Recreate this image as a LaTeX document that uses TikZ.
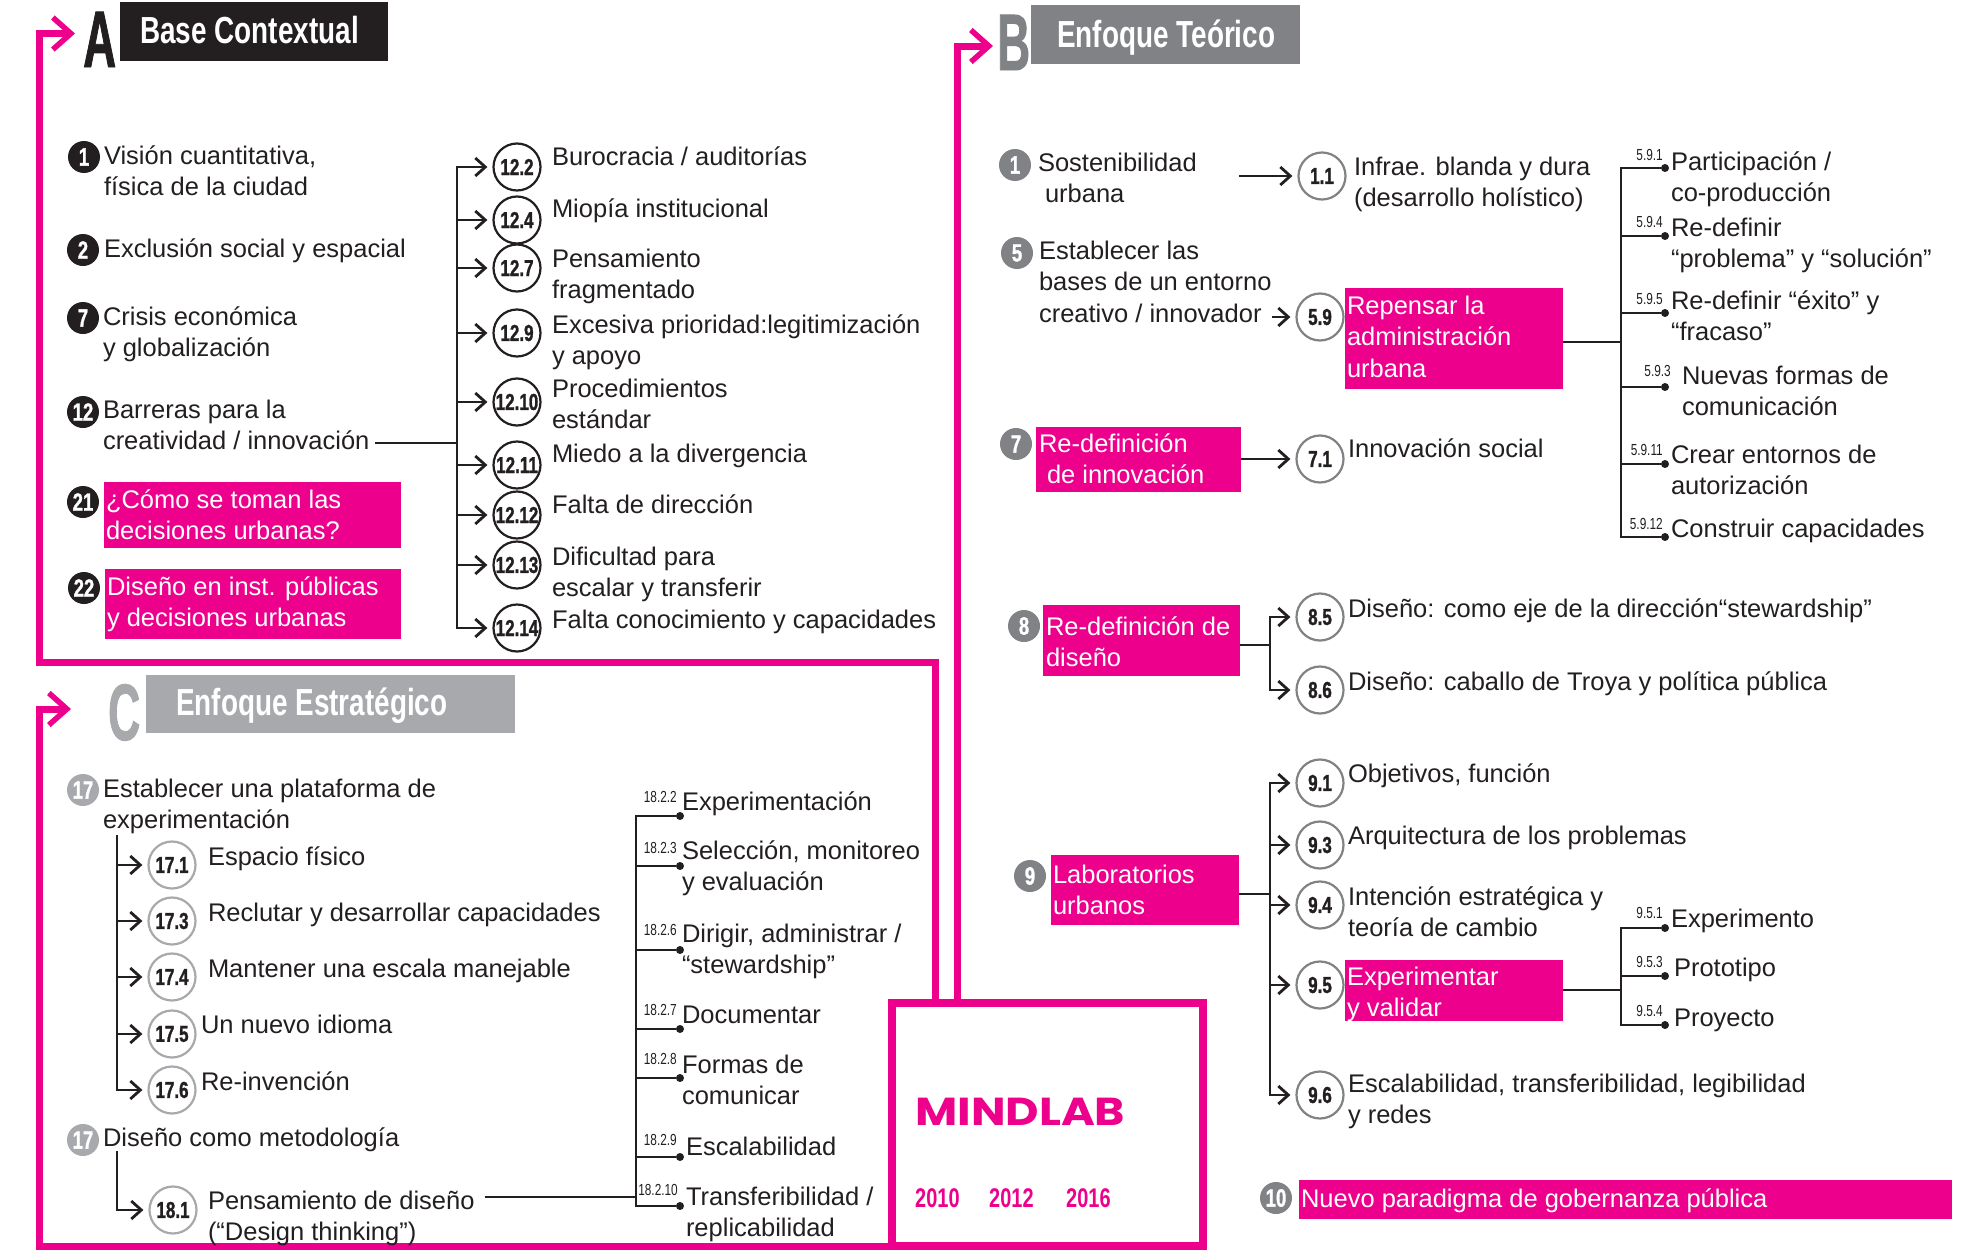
\documentclass[tikz,border=0pt]{standalone}
\usepackage{fontspec}
\usepackage{graphicx}
\usetikzlibrary{arrows.meta}
\setmainfont{Liberation Sans}
\newfontfamily\condfont{Liberation Sans}[FakeStretch=0.74]
\newfontfamily\heavyfont{Liberation Sans Bold}[FakeStretch=0.74, FakeBold=1.2]
\newfontfamily\geofont{Poppins}
\definecolor{mag}{HTML}{EC008C}
\definecolor{ink}{HTML}{231F20}
\definecolor{midgrey}{HTML}{808285}
\definecolor{lightgrey}{HTML}{A7A9AC}
\newcommand{\bodysize}{\fontsize{25.5}{31.5}\selectfont}

\tikzset{
  txt/.style={font=\bodysize, text=ink, inner sep=0pt, outer sep=0pt, anchor=base west, align=left},
  wtxt/.style={txt, text=white},
  % multi-line texts are placed by their first baseline
  two/.style={yshift=-31.5pt},
  three/.style={yshift=-63pt},
  sublab/.style={font=\condfont\fontsize{16}{16}\selectfont, text=ink, inner sep=0pt, anchor=base east},
  headbox/.style={fill=#1, inner sep=0pt, outer sep=0pt, anchor=north west},
  pbox/.style={headbox=mag},
  headtxt/.style={font=\condfont\bfseries\fontsize{37.7}{40}\selectfont, text=white, inner sep=0pt, anchor=base west},
  bigletter/.style={font=\heavyfont\fontsize{80}{80}\selectfont, inner sep=0pt, anchor=base west},
  numdot/.style={circle, fill=#1, minimum size=32pt, inner sep=0pt, text=white, font=\heavyfont\fontsize{25}{25}\selectfont},
  numring/.style={circle, draw=#1, line width=2.2pt, minimum size=47pt, inner sep=0pt, text=ink, font=\heavyfont\fontsize{23}{23}\selectfont},
  bdot/.style={circle, fill=ink, minimum size=8pt, inner sep=0pt},
  bline/.style={draw=ink, line width=2.8pt, line cap=rect},
  barrow/.style={-{Straight Barb[length=10pt,width=18pt]}, line cap=butt, shorten >=5pt},
  pframe/.style={draw=mag, line width=7pt, -{Straight Barb[length=18pt,width=32pt,line width=5.5pt]}},
  yeartxt/.style={font=\condfont\bfseries\fontsize{27}{27}\selectfont, text=mag, inner sep=0pt, anchor=base west},
}

\begin{document}
\begin{tikzpicture}[x=1pt,y=-1pt]
\useasboundingbox (0,0) rectangle (1974,1250);
\fill[white] (0,0) rectangle (1974,1250);

% ---------- MINDLAB core and the three feeding frames ----------
\node[draw=mag, line width=8pt, minimum width=311pt, minimum height=243pt,
      inner sep=0pt, outer sep=0pt, anchor=north west] (mind) at (892,1003) {};
\node[font=\geofont\bfseries\fontsize{39}{39}\selectfont, text=mag, inner sep=0pt, anchor=base west] (mindname) at (915,1125) {\scalebox{1.18}[1]{MINDLAB}};
\node[yeartxt] (y2010) at (915,1207) {2010};
\node[yeartxt] (y2012) at (989,1207) {2012};
\node[yeartxt] (y2016) at (1066,1207) {2016};

\coordinate (aFoot) at (935,1003);
\coordinate (bFoot) at (957,1003);
\coordinate (aTip) at (75,33.5);
\coordinate (bTip) at (993,46);
\coordinate (cTip) at (71,709);
\draw[pframe] (aFoot) |- (39.5,662.5) |- (aTip);
\draw[pframe] (bFoot) |- (bTip);
\draw[pframe] (mind.south west) -| (39.5,709) -- (cTip);

% ---------- A: Base Contextual ----------
\node[headbox=ink, minimum width=268pt, minimum height=59pt] (boxA) at (120,2) {};
\node[headtxt] (ttlA) at (140,43) {Base Contextual};
\node[bigletter, text=ink] (letA) at (83,67) {\scalebox{0.77}[1]{A}};

\node[numdot=ink] (a1) at (84,157) {1};
\node[txt, two] (ta1) at (104,164) {Visión cuantitativa,\\física de la ciudad};
\node[numdot=ink] (a2) at (83,250) {2};
\node[txt] (ta2) at (104,257) {Exclusión social y espacial};
\node[numdot=ink] (a7) at (83,318) {7};
\node[txt, two] (ta7) at (103,325) {Crisis económica\\y globalización};
\node[numdot=ink] (a12) at (83,412) {12};
\node[txt, two] (ta12) at (103,418) {Barreras para la\\creatividad / innovación};
\node[numdot=ink] (a21) at (83,502) {21};
\node[pbox, minimum width=297pt, minimum height=66pt] (pa21) at (104,482) {};
\node[wtxt, two] (ta21) at (106,508) {¿Cómo se toman las\\decisiones urbanas?};
\node[numdot=ink] (a22) at (84,588) {22};
\node[pbox, minimum width=296pt, minimum height=70pt] (pa22) at (105,569) {};
\node[wtxt, two] (ta22) at (107,595) {Diseño en inst. públicas\\y decisiones urbanas};

\coordinate (jA) at (457,443);
\foreach \id/\lbl/\y in {122/12.2/167, 124/12.4/220, 127/12.7/268, 129/12.9/333,
    1210/12.10/402, 1211/12.11/465, 1212/12.12/515, 1213/12.13/565, 1214/12.14/628}{
  \node[numring=ink] (r\id) at (517,\y) {\lbl};
  \draw[bline, barrow] (jA |- r\id) -- (r\id);
}
\draw[bline] (jA |- r122) -- (jA |- r1214);
\draw[bline, line cap=butt, shorten <=6pt] (ta12.east |- jA) -- (jA);

\node[txt] (t122) at (552,165) {Burocracia / auditorías};
\node[txt] (t124) at (552,217) {Miopía institucional};
\node[txt, two] (t127) at (552,267) {Pensamiento\\fragmentado};
\node[txt, two] (t129) at (552,333) {Excesiva prioridad:legitimización\\y apoyo};
\node[txt, two] (t1210) at (552,397) {Procedimientos\\estándar};
\node[txt] (t1211) at (552,462) {Miedo a la divergencia};
\node[txt] (t1212) at (552,513) {Falta de dirección};
\node[txt, two] (t1213) at (552,565) {Dificultad para\\escalar y transferir};
\node[txt] (t1214) at (552,628) {Falta conocimiento y capacidades};

% ---------- B: Enfoque Teórico ----------
\node[headbox=midgrey, minimum width=269pt, minimum height=59pt] (boxB) at (1031,5) {};
\node[headtxt] (ttlB) at (1057,47) {Enfoque Teórico};
\node[bigletter, text=midgrey] (letB) at (997,70) {\scalebox{0.77}[1]{B}};

\node[numdot=midgrey] (b1) at (1015,165) {1};
\node[txt, two] (tb1) at (1038,171) {Sostenibilidad\\\hspace*{7pt}urbana};
\coordinate (b1o) at (1239,176);
\node[numring=midgrey] (r11) at (1322,176) {1.1};
\draw[bline, barrow] (b1o) -- (r11);
\node[txt, two] (tr11) at (1354,175) {Infrae. blanda y dura\\(desarrollo holístico)};

\node[numdot=midgrey] (b5) at (1017,253) {5};
\node[txt, three] (tb5) at (1039,259) {Establecer las\\bases de un entorno\\creativo / innovador};
\node[pbox, minimum width=218pt, minimum height=101pt] (pb59) at (1345,288) {};
\node[wtxt, three] (tpb59) at (1347,314) {Repensar la\\administración\\urbana};
\node[numring=midgrey] (r59) at (1320,317) {5.9};
\draw[bline, barrow] (tb5.east |- r59) -- (r59);

\coordinate (jB59) at (1621,342);
\foreach \id/\y in {591/168, 594/236, 595/313, 593/387, 5911/464, 5912/537}{
  \node[bdot] (d\id) at (1665,\y) {};
  \draw[bline, line cap=butt] (jB59 |- d\id) -- (d\id);
}
\draw[bline] (jB59 |- d591) -- (jB59 |- d5912);
\draw[bline, line cap=butt] (pb59.east |- jB59) -- (jB59);
\node[sublab] (l591) at ([shift={(-2,-8)}]d591.center) {5.9.1};
\node[sublab] (l594) at ([shift={(-2,-9)}]d594.center) {5.9.4};
\node[sublab] (l595) at ([shift={(-2,-9)}]d595.center) {5.9.5};
\node[sublab] (l593) at ([shift={(6,-11)}]d593.center) {5.9.3};
\node[sublab] (l5911) at ([shift={(-2,-9)}]d5911.center) {5.9.11};
\node[sublab] (l5912) at ([shift={(-2,-8)}]d5912.center) {5.9.12};
\node[txt, two] (t591) at (1671,170) {Participación /\\co-producción};
\node[txt, two] (t594) at (1671,236) {Re-definir\\“problema” y “solución”};
\node[txt, two] (t595) at (1671,309) {Re-definir “éxito” y\\“fracaso”};
\node[txt, two] (t593) at (1682,384) {Nuevas formas de\\comunicación};
\node[txt, two] (t5911) at (1671,463) {Crear entornos de\\autorización};
\node[txt] (t5912) at (1671,537) {Construir capacidades};

\node[numdot=midgrey] (b7) at (1016,444) {7};
\node[pbox, minimum width=205pt, minimum height=65pt] (pb7) at (1036,427) {};
\node[wtxt, two] (tpb7) at (1039,452) {Re-definición\\\hspace*{8pt}de innovación};
\node[numring=midgrey] (r71) at (1320,459) {7.1};
\draw[bline, barrow] (pb7.east |- r71) -- (r71);
\node[txt] (tr71) at (1348,457) {Innovación social};

\node[numdot=midgrey] (b8) at (1024,626) {8};
\node[pbox, minimum width=197pt, minimum height=71pt] (pb8) at (1043,605) {};
\node[wtxt, two] (tpb8) at (1046,635) {Re-definición de\\diseño};
\coordinate (jB8) at (1270,645);
\node[numring=midgrey] (r85) at (1320,617) {8.5};
\node[numring=midgrey] (r86) at (1320,690) {8.6};
\draw[bline, line cap=butt] (pb8.east |- jB8) -- (jB8);
\draw[bline] (jB8 |- r85) -- (jB8 |- r86);
\draw[bline, barrow] (jB8 |- r85) -- (r85);
\draw[bline, barrow] (jB8 |- r86) -- (r86);
\node[txt] (tr85) at (1348,617) {Diseño: como eje de la dirección“stewardship”};
\node[txt] (tr86) at (1348,690) {Diseño: caballo de Troya y política pública};

\node[numdot=midgrey] (b9) at (1030,876) {9};
\node[pbox, minimum width=188pt, minimum height=70pt] (pb9) at (1051,855) {};
\node[wtxt, two] (tpb9) at (1053,883) {Laboratorios\\urbanos};
\coordinate (jB9) at (1270,894);
\node[pbox, minimum width=218pt, minimum height=61pt] (pb95) at (1345,960) {};
\node[wtxt, two] (tpb95) at (1347,985) {Experimentar\\y validar};
\foreach \id/\lbl/\y in {91/9.1/783, 93/9.3/845, 94/9.4/905, 95/9.5/985, 96/9.6/1095}{
  \node[numring=midgrey] (r\id) at (1320,\y) {\lbl};
  \draw[bline, barrow] (jB9 |- r\id) -- (r\id);
}
\draw[bline] (jB9 |- r91) -- (jB9 |- r96);
\draw[bline, line cap=butt] (pb9.east |- jB9) -- (jB9);
\node[txt] (tr91) at (1348,782) {Objetivos, función};
\node[txt] (tr93) at (1348,844) {Arquitectura de los problemas};
\node[txt, two] (tr94) at (1348,905) {Intención estratégica y\\teoría de cambio};
\node[txt, two] (tr96) at (1348,1092) {Escalabilidad, transferibilidad, legibilidad\\y redes};

\coordinate (jB95) at (1621,990);
\foreach \id/\y in {951/928, 953/976, 954/1025}{
  \node[bdot] (d\id) at (1665,\y) {};
  \draw[bline, line cap=butt] (jB95 |- d\id) -- (d\id);
}
\draw[bline] (jB95 |- d951) -- (jB95 |- d954);
\draw[bline, line cap=butt] (pb95.east |- jB95) -- (jB95);
\node[sublab] (l951) at ([shift={(-2,-10)}]d951.center) {9.5.1};
\node[sublab] (l953) at ([shift={(-2,-9)}]d953.center) {9.5.3};
\node[sublab] (l954) at ([shift={(-2,-9)}]d954.center) {9.5.4};
\node[txt] (t951) at (1671,927) {Experimento};
\node[txt] (t953) at (1674,976) {Prototipo};
\node[txt] (t954) at (1674,1026) {Proyecto};

\node[numdot=midgrey] (b10) at (1276,1198) {10};
\node[pbox, minimum width=653pt, minimum height=39pt] (pb10) at (1299,1180) {};
\node[wtxt] (tpb10) at (1301,1207) {Nuevo paradigma de gobernanza pública};

% ---------- C: Enfoque Estratégico ----------
\node[headbox=lightgrey, minimum width=369pt, minimum height=58pt] (boxC) at (146,675) {};
\node[headtxt] (ttlC) at (176,715) {Enfoque Estratégico};
\node[bigletter, text=lightgrey] (letC) at (108,740) {\scalebox{0.75}[1]{C}};

\node[numdot=lightgrey] (c17a) at (83,790) {17};
\node[txt, two] (tc17a) at (103,797) {Establecer una plataforma de\\experimentación};
\coordinate (jC17) at (117,836);
\foreach \id/\lbl/\y in {171/17.1/865, 173/17.3/921, 174/17.4/977, 175/17.5/1034, 176/17.6/1090}{
  \node[numring=lightgrey] (r\id) at (172,\y) {\lbl};
  \draw[bline, barrow] (jC17 |- r\id) -- (r\id);
}
\draw[bline] (jC17) -- (jC17 |- r176);
\node[txt] (tr171) at (208,865) {Espacio físico};
\node[txt] (tr173) at (208,921) {Reclutar y desarrollar capacidades};
\node[txt] (tr174) at (208,977) {Mantener una escala manejable};
\node[txt] (tr175) at (201,1033) {Un nuevo idioma};
\node[txt] (tr176) at (201,1090) {Re-invención};

\node[numdot=lightgrey] (c17b) at (83,1140) {17};
\node[txt] (tc17b) at (103,1146) {Diseño como metodología};
\coordinate (jC18) at (117,1152);
\node[numring=lightgrey] (r181) at (173,1210) {18.1};
\draw[bline] (jC18) -- (jC18 |- r181);
\draw[bline, barrow] (jC18 |- r181) -- (r181);
\node[txt, two] (tr181) at (208,1209) {Pensamiento de diseño\\(“Design thinking”)};

\coordinate (jC) at (636,1197);
\draw[bline, line cap=butt, shorten <=10pt] (tr181.east |- jC) -- (jC);
\foreach \id/\y in {1822/816, 1823/866, 1826/950, 1827/1029, 1828/1078, 1829/1157, 18210/1206}{
  \node[bdot] (d\id) at (680,\y) {};
  \draw[bline, line cap=butt] (jC |- d\id) -- (d\id);
}
\draw[bline] (jC |- d1822) -- (jC |- d18210);
\node[sublab] (l1822) at ([shift={(-3,-14)}]d1822.center) {18.2.2};
\node[sublab] (l1823) at ([shift={(-3,-13)}]d1823.center) {18.2.3};
\node[sublab] (l1826) at ([shift={(-3,-15)}]d1826.center) {18.2.6};
\node[sublab] (l1827) at ([shift={(-3,-14)}]d1827.center) {18.2.7};
\node[sublab] (l1828) at ([shift={(-3,-14)}]d1828.center) {18.2.8};
\node[sublab] (l1829) at ([shift={(-3,-12)}]d1829.center) {18.2.9};
\node[sublab] (l18210) at ([shift={(-2,-11)}]d18210.center) {18.2.10};
\node[txt] (t1822) at (682,810) {Experimentación};
\node[txt, two] (t1823) at (682,859) {Selección, monitoreo\\y evaluación};
\node[txt, two] (t1826) at (682,942) {Dirigir, administrar /\\“stewardship”};
\node[txt] (t1827) at (682,1023) {Documentar};
\node[txt, two] (t1828) at (682,1073) {Formas de\\comunicar};
\node[txt] (t1829) at (686,1155) {Escalabilidad};
\node[txt, two] (t18210) at (686,1205) {Transferibilidad /\\replicabilidad};

\end{tikzpicture}
\end{document}
